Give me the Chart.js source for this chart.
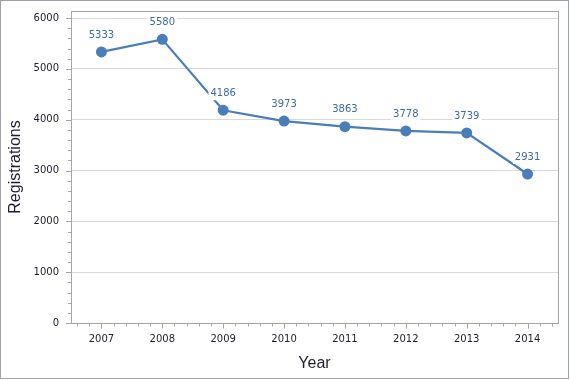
<!DOCTYPE html>
<html>
<head>
<meta charset="utf-8">
<script src="https://cdn.jsdelivr.net/npm/chart.js@4/dist/chart.umd.min.js"></script>
<style>
  html, body { margin: 0; padding: 0; background: #fff; }
  #wrap { width: 570px; height: 380px; position: relative; }
</style>
</head>
<body>
<div id="wrap"><canvas id="c" width="570" height="380"></canvas></div>
<script>
const years = ['2007', '2008', '2009', '2010', '2011', '2012', '2013', '2014'];
const registrations = [5333, 5580, 4186, 3973, 3863, 3778, 3739, 2931];
const yMajorTicks = [0, 1000, 2000, 3000, 4000, 5000, 6000];
const yMinorStep = 200;

const LINE = '#4a7ebb';
const AXIS = '#a6a6a6';
const GRID = '#d9d9d9';
const TEXT = '#1e1e2e';
const LABEL = '#3d6ca8';

const frame = {
  id: 'frame',
  beforeDraw(chart) {
    const c = chart.ctx;
    c.save();
    c.fillStyle = '#fff';
    c.fillRect(0, 0, chart.width, chart.height);
    c.strokeStyle = '#a0a0a8';
    c.lineWidth = 1;
    c.strokeRect(0.5, 0.5, chart.width - 2, chart.height - 2);
    c.restore();
  },
  afterDatasetsDraw(chart) {
    const c = chart.ctx;
    const a = chart.chartArea;
    const x = chart.scales.x, y = chart.scales.y;
    c.save();
    c.strokeStyle = AXIS;
    c.lineWidth = 1;
    c.strokeRect(Math.round(a.left) + 0.5, Math.round(a.top) + 0.5,
                 Math.round(a.right - a.left), Math.round(a.bottom - a.top));
    c.beginPath();
    const yMax = yMajorTicks[yMajorTicks.length - 1];
    for (let v = 0; v <= yMax; v += yMinorStep) {
      const py = Math.round(y.getPixelForValue(v)) + 0.5;
      const len = (v % 1000 === 0) ? 5 : 3;
      c.moveTo(Math.round(a.left) - len, py);
      c.lineTo(Math.round(a.left), py);
    }
    const w = x.getPixelForValue(1) - x.getPixelForValue(0);
    const bottom = Math.round(a.bottom) + 0.5;
    for (let i = 0; i < years.length; i++) {
      const cx = x.getPixelForValue(i);
      for (let k = -2; k <= 2; k++) {
        if (k < 0 && i > 0) continue;
        const px = cx + k * w / 5;
        if (px <= a.left + 1 || px >= a.right - 1) continue;
        const len = k === 0 ? 5 : 3;
        const rx = Math.round(px) + 0.5;
        c.moveTo(rx, bottom);
        c.lineTo(rx, bottom + len);
      }
      if (i > 0) {
        for (let k = -2; k <= -1; k++) {
          const rx = Math.round(cx + k * w / 5) + 0.5;
          c.moveTo(rx, bottom);
          c.lineTo(rx, bottom + 3);
        }
      }
    }
    c.stroke();
    c.restore();
  },
  afterDraw(chart) {
    const c = chart.ctx;
    const meta = chart.getDatasetMeta(0);
    c.save();
    c.font = '10px "DejaVu Sans"';
    c.textAlign = 'center';
    c.textBaseline = 'middle';
    meta.data.forEach((pt, i) => {
      const txt = String(registrations[i]);
      const tw = c.measureText(txt).width;
      const ly = pt.y - 17;
      c.fillStyle = '#fff';
      c.fillRect(pt.x - tw / 2 - 2, ly - 7, tw + 4, 14);
      c.fillStyle = LABEL;
      c.fillText(txt, pt.x, ly);
    });
    c.restore();
  }
};

new Chart(document.getElementById('c'), {
  type: 'line',
  data: {
    labels: years,
    datasets: [{
      data: registrations,
      borderColor: LINE,
      backgroundColor: LINE,
      borderWidth: 2.2,
      pointRadius: 5.5,
      pointBackgroundColor: LINE,
      pointBorderColor: LINE,
      pointBorderWidth: 0,
      tension: 0,
      fill: false
    }]
  },
  options: {
    responsive: false,
    animation: false,
    events: [],
    layout: { padding: { top: 11, right: 12, left: 0, bottom: 0 } },
    plugins: { legend: { display: false }, tooltip: { enabled: false } },
    scales: {
      x: {
        type: 'category',
        offset: true,
        grid: { display: false, drawTicks: false },
        border: { display: false },
        ticks: { color: TEXT, font: { family: 'DejaVu Sans', size: 10 }, padding: 10, maxRotation: 0 },
        title: { display: true, text: 'Year', color: TEXT,
                 font: { family: 'Liberation Sans', size: 16 }, padding: { top: 0, bottom: 7 } },
        afterFit(s) { s.height = 57; s.paddingLeft = 0; s.paddingRight = 0; }
      },
      y: {
        min: 0,
        max: 6138,
        afterBuildTicks(s) { s.ticks = yMajorTicks.map(v => ({ value: v })); },
        grid: { color: GRID, drawTicks: false },
        border: { display: false },
        ticks: { color: TEXT, font: { family: 'DejaVu Sans', size: 10 }, padding: 12,
                 callback: (v) => String(v) },
        title: { display: true, text: 'Registrations', color: TEXT,
                 font: { family: 'Liberation Sans', size: 16 }, padding: { top: 6, bottom: 0 } },
        afterFit(s) { s.width = 71; s.paddingTop = 0; s.paddingBottom = 0; }
      }
    }
  },
  plugins: [frame]
});
</script>
</body>
</html>
